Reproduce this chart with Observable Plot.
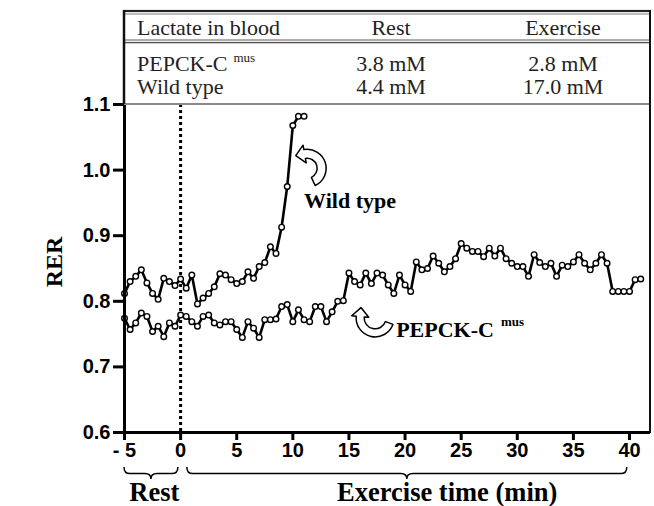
<!DOCTYPE html>
<html>
<head>
<meta charset="utf-8">
<script src="https://cdn.jsdelivr.net/npm/d3@7"></script>
<script src="https://cdn.jsdelivr.net/npm/@observablehq/plot@0.6"></script>
<style>
  html, body { margin: 0; padding: 0; background: #fff; }
  #chart { width: 654px; height: 506px; }
  #chart g[aria-label$="-axis tick"] path,
  #chart g[aria-label$="-axis tick"],
  #chart g[aria-label$="-axis"] line { stroke-width: 3px; }
</style>
</head>
<body>
<div id="chart"></div>
<script>
// ---------- data ----------
const wtTime = [-5,-4.5,-4,-3.5,-3,-2.5,-2,-1.5,-1,-0.5,0,0.5,1,1.5,2,2.5,3,3.5,4,4.5,5,5.5,6,6.5,7,7.5,8,8.5,9,9.5,10,10.5,11];
const wtRER = [0.812,0.830,0.838,0.848,0.828,0.812,0.803,0.835,0.830,0.824,
               0.834,0.820,0.840,0.796,0.805,0.812,0.822,0.842,0.840,0.833,
               0.827,0.830,0.845,0.835,0.853,0.859,0.883,0.873,0.913,0.975,
               1.068,1.082,1.082];

const pepckTime = [-5,-4.5,-4,-3.5,-3,-2.5,-2,-1.5,-1,-0.5,
                   0,0.5,1,1.5,2,2.5,3,3.5,4,4.5,
                   5,5.5,6,6.5,7,7.5,8,8.5,9,9.5,
                   10,10.5,11,11.5,12,12.5,13,13.5,14,14.5,
                   15,15.5,16,16.5,17,17.5,18,18.5,19,19.5,
                   20,20.5,21,21.5,22,22.5,23,23.5,24,24.5,
                   25,25.5,26,26.5,27,27.5,28,28.5,29,29.5,
                   30,30.5,31,31.5,32,32.5,33,33.5,34,34.5,
                   35,35.5,36,36.5,37,37.5,38,38.5,39,39.5,
                   40,40.5,41];
const pepckRER = [0.774,0.757,0.767,0.782,0.777,0.754,0.762,0.746,0.767,0.762,
                  0.779,0.777,0.769,0.762,0.777,0.779,0.767,0.764,0.769,0.769,
                  0.757,0.745,0.769,0.759,0.745,0.772,0.772,0.773,0.792,0.795,
                  0.769,0.787,0.772,0.769,0.792,0.792,0.769,0.784,0.800,0.801,
                  0.843,0.830,0.825,0.843,0.827,0.843,0.840,0.825,0.812,0.840,
                  0.825,0.815,0.860,0.848,0.850,0.869,0.858,0.845,0.853,0.865,
                  0.888,0.881,0.876,0.876,0.868,0.881,0.869,0.881,0.865,0.858,
                  0.853,0.853,0.838,0.871,0.859,0.853,0.858,0.838,0.855,0.853,
                  0.860,0.871,0.858,0.848,0.858,0.871,0.858,0.815,0.815,0.815,
                  0.815,0.833,0.834];

const xTicks = [-5,0,5,10,15,20,25,30,35,40];
const xTickLabels = ["- 5","0","5","10","15","20","25","30","35","40"];
const yTicks = [0.6,0.7,0.8,0.9,1.0,1.1];
const yTickLabels = ["0.6","0.7","0.8","0.9","1.0","1.1"];
const yAxisLabel = "RER";

// inset table
const tableHeader = ["Lactate in blood", "Rest", "Exercise"];
const tableGenotype = ["PEPCK-C", "Wild type"];
const tableGenotypeSup = ["mus", ""];
const tableRest = ["3.8 mM", "4.4 mM"];
const tableExercise = ["2.8 mM", "17.0 mM"];

// bottom braces
const braceFrom = [-5, 0.6];
const braceTo = [-0.2, 39.8];
const braceLabels = ["Rest", "Exercise time (min)"];
const braceLabelAt = [-2.3, 23.8];

// in-plot annotations
const annText = ["Wild type", "PEPCK-C"];
const annSup = ["", "mus"];
const annT = [11.05, 19.25];
const annRER = [0.941, 0.745];
const arrowT = [11.32, 17.38];
const arrowRER = [1.002, 0.774];
const arrowFrom = [65, 20];
const arrowTo = [-100, 185];

// ---------- build ----------
const data = [
  ...wtTime.map((t, i) => ({series: "Wild type", t, rer: wtRER[i]})),
  ...pepckTime.map((t, i) => ({series: "PEPCK-C mus", t, rer: pepckRER[i]}))
];

const W = 654, H = 506;
const mL = 124, mR = 4, mT = 104, mB = 74;
const xDomain = [-5, 41.87];
const yDomain = [0.6, 1.1];

const chart = Plot.plot({
  width: W, height: H,
  marginLeft: mL, marginRight: mR, marginTop: mT, marginBottom: mB,
  style: {fontFamily: "'Liberation Sans', Arial, sans-serif", fontSize: "20px", fontWeight: "bold", color: "#000", background: "#fff", overflow: "visible"},
  x: {domain: xDomain, ticks: xTicks, tickFormat: d => xTickLabels[xTicks.indexOf(d)], tickSize: 8, tickPadding: 2, label: null},
  y: {domain: yDomain, ticks: yTicks, tickFormat: d => yTickLabels[yTicks.indexOf(d)], tickSize: 11, tickPadding: 3, label: null},
  marks: [
    Plot.ruleX([0], {stroke: "#000", strokeWidth: 3, strokeDasharray: "3,3"}),
    Plot.line(data, {x: "t", y: "rer", z: "series", stroke: "#000", strokeWidth: 2.6}),
    Plot.dot(data, {x: "t", y: "rer", r: 2.8, fill: "#fff", stroke: "#000", strokeWidth: 1.4}),
    Plot.ruleX([xDomain[0]], {stroke: "#000", strokeWidth: 3}),
    Plot.ruleY([yDomain[0]], {stroke: "#000", strokeWidth: 3})
  ]
});
document.getElementById("chart").appendChild(chart);

const xs = chart.scale("x"), ys = chart.scale("y");
const X = v => xs.apply(v), Y = v => ys.apply(v);
const svg = d3.select(chart);
const serif = "'Liberation Serif', 'Times New Roman', serif";

// frame + table (lines as thin rects)
const bxL = mL, bxR = W - mR, bxT = 10, bxB = Y(yDomain[1]);
const g = svg.append("g").attr("stroke", "none");
function hbar(x1, x2, y, h, color) {
  g.append("rect").attr("x", x1).attr("y", y - h / 2).attr("width", x2 - x1).attr("height", h).attr("fill", color);
}
function vbar(x, y1, y2, w, color) {
  g.append("rect").attr("x", x - w / 2).attr("y", y1).attr("width", w).attr("height", y2 - y1).attr("fill", color);
}
hbar(bxL, bxR, bxB, 2, "#8a8a8a");
hbar(bxL - 1, bxR + 1, bxT + 1, 2.2, "#222");
hbar(bxL, bxR, bxT + 4, 1.3, "#9a9a9a");
hbar(bxL, bxR, 40, 1.4, "#8a8a8a");
hbar(bxL, bxR, 42.6, 1.4, "#555");
vbar(bxL, bxT, bxB, 2.5, "#111");
vbar(bxR, bxT, Y(yDomain[0]) + 1, 2, "#111");

const colX = [bxL + 13, 391, 563];
const tt = g.append("g").attr("font-family", serif).attr("font-size", 22).attr("font-weight", "normal").attr("fill", "#222");
tableHeader.forEach((h, i) => {
  tt.append("text").attr("x", colX[i]).attr("y", 35).attr("text-anchor", i === 0 ? "start" : "middle").text(h);
});
const rowY = [71, 94];
tableGenotype.forEach((name, i) => {
  const t = tt.append("text").attr("x", colX[0]).attr("y", rowY[i]).attr("text-anchor", "start").text(name);
  if (tableGenotypeSup[i]) t.append("tspan").attr("dx", 6).attr("dy", -9).attr("font-size", 13).text(tableGenotypeSup[i]);
  tt.append("text").attr("x", colX[1]).attr("y", rowY[i]).attr("text-anchor", "middle").text(tableRest[i]);
  tt.append("text").attr("x", colX[2]).attr("y", rowY[i]).attr("text-anchor", "middle").text(tableExercise[i]);
});

// y label
svg.append("text").attr("transform", `translate(62,262) rotate(-90)`).attr("text-anchor", "middle")
  .attr("font-family", serif).attr("font-size", 24).attr("font-weight", "bold").text(yAxisLabel);

// braces
function bracePath(x1, x2, y, h) {
  const xm = (x1 + x2) / 2, q = Math.min(6, (x2 - x1) / 4), ym = y + h * 0.55;
  return `M${x1},${y}Q${x1},${ym} ${x1 + q},${ym}L${xm - q},${ym}Q${xm},${ym} ${xm},${y + h}Q${xm},${ym} ${xm + q},${ym}L${x2 - q},${ym}Q${x2},${ym} ${x2},${y}`;
}
const by = Y(yDomain[0]) + 35;
braceLabels.forEach((lab, i) => {
  svg.append("path").attr("d", bracePath(X(braceFrom[i]), X(braceTo[i]), by, 12))
    .attr("fill", "none").attr("stroke", "#000").attr("stroke-width", 1.5);
  svg.append("text").attr("x", X(braceLabelAt[i])).attr("y", 501).attr("text-anchor", "middle")
    .attr("font-family", serif).attr("font-size", 26.5).attr("font-weight", "bold").text(lab);
});

// annotations
annText.forEach((txt, i) => {
  const t = svg.append("text").attr("x", X(annT[i])).attr("y", Y(annRER[i])).attr("text-anchor", "start")
    .attr("font-family", serif).attr("font-size", 22).attr("font-weight", "bold").text(txt);
  if (annSup[i]) t.append("tspan").attr("dx", 7).attr("dy", -11).attr("font-size", 13).text(annSup[i]);
});
function arrowPath(cx, cy, rIn, rOut, a0, a1) {
  const rad = d => d * Math.PI / 180;
  const P = (r, a) => [cx + r * Math.cos(rad(a)), cy + r * Math.sin(rad(a))];
  const s = a1 > a0 ? 1 : -1;
  const large = Math.abs(a1 - a0) > 180 ? 1 : 0;
  const sweep = s > 0 ? 1 : 0;
  const w = 4.5, hl = 9, rm = (rIn + rOut) / 2;
  const m = P(rm, a1);
  const tx = -s * Math.sin(rad(a1)), ty = s * Math.cos(rad(a1));
  const tip = [m[0] + tx * hl, m[1] + ty * hl];
  return `M${P(rOut, a0)}A${rOut},${rOut} 0 ${large} ${sweep} ${P(rOut, a1)}L${P(rOut + w, a1)}L${tip}L${P(rIn - w, a1)}L${P(rIn, a1)}A${rIn},${rIn} 0 ${large} ${1 - sweep} ${P(rIn, a0)}Z`;
}
arrowT.forEach((t, i) => {
  svg.append("path").attr("d", arrowPath(X(t), Y(arrowRER[i]), i === 0 ? 10 : 11, 19, arrowFrom[i], arrowTo[i]))
    .attr("fill", "#fff").attr("stroke", "#000").attr("stroke-width", 1.5).attr("stroke-linejoin", "round");
});
</script>
</body>
</html>
